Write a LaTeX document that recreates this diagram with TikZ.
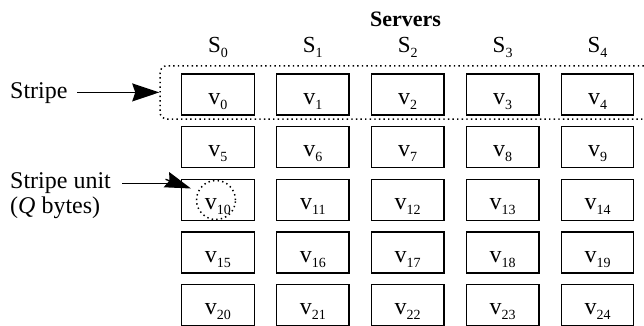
\documentclass[tikz,border=0pt]{standalone}
\usepackage{fontspec}
\setmainfont{Liberation Serif}
\usetikzlibrary{arrows.meta}
\newcommand{\lowsub}[1]{\raisebox{-5pt}{\fontsize{14}{14}\selectfont #1}}
\tikzset{
  cell/.style={draw, line width=1.3pt, minimum width=72.5pt, minimum height=41pt,
    inner sep=0pt, text height=30pt, text depth=11pt, font=\fontsize{24}{28}\selectfont},
  lbl/.style={inner sep=0pt, anchor=base west, font=\fontsize{24}{28}\selectfont},
  slbl/.style={inner sep=0pt, anchor=base, font=\fontsize{23}{27}\selectfont},
  dotline/.style={line width=1.5pt, dash pattern=on 1.4pt off 3.2pt},
  conn/.style={line width=1.3pt},
  arr/.style={line width=1.3pt, -{Stealth[length=27pt, width=18pt, inset=3pt]}}
}
\begin{document}
\begin{tikzpicture}[x=1pt, y=-1pt]
\useasboundingbox (0,0) rectangle (644,325);
\clip (0,0) rectangle (644,325);
\foreach \r in {0,...,4}{
  \foreach \c in {0,...,4}{
    \pgfmathtruncatemacro{\n}{\r*5+\c}
    \node[cell] (v\n) at ({217.9+94.9*\c},{94.5+52.7*\r}) {v\lowsub{\n}};
  }
}
\foreach \c in {0,...,4}{
  \node[slbl] (s\c) at ({217.9+94.9*\c},52) {S\lowsub{\c}};
}
\node[inner sep=0pt, anchor=base, font=\bfseries\fontsize{22}{26}\selectfont] (servers) at (405.5,26) {Servers};
\node[draw, dotline, rounded corners=7pt, minimum width=500pt, minimum height=53.3pt, inner sep=0pt] (stripebox) at (410,92.4) {};
\node[draw, dotline, circle, minimum size=39pt, inner sep=0pt] (unitc) at (216,200) {};
\node[lbl] (stripe) at (10,98) {Stripe};
\node[lbl] (unit) at (10,188.3) {Stripe unit};
\node[lbl] (qbytes) at (10,213.3) {(\textit{Q} bytes)};
\coordinate (stripetail) at (77,92.4);
\coordinate (unittail) at (122,183.3);
\coordinate (unitjoint) at (167,183.3);
\coordinate (unithead) at (165.5,179.3);
\coordinate (unittip) at (191,188.5);
\draw[arr] (stripetail) -- (stripebox.west);
\draw[conn] (unittail) -- (unitjoint);
\draw[arr, -{Stealth[length=26pt, width=16pt, inset=3pt]}] (unithead) -- (unittip);
\end{tikzpicture}
\end{document}
